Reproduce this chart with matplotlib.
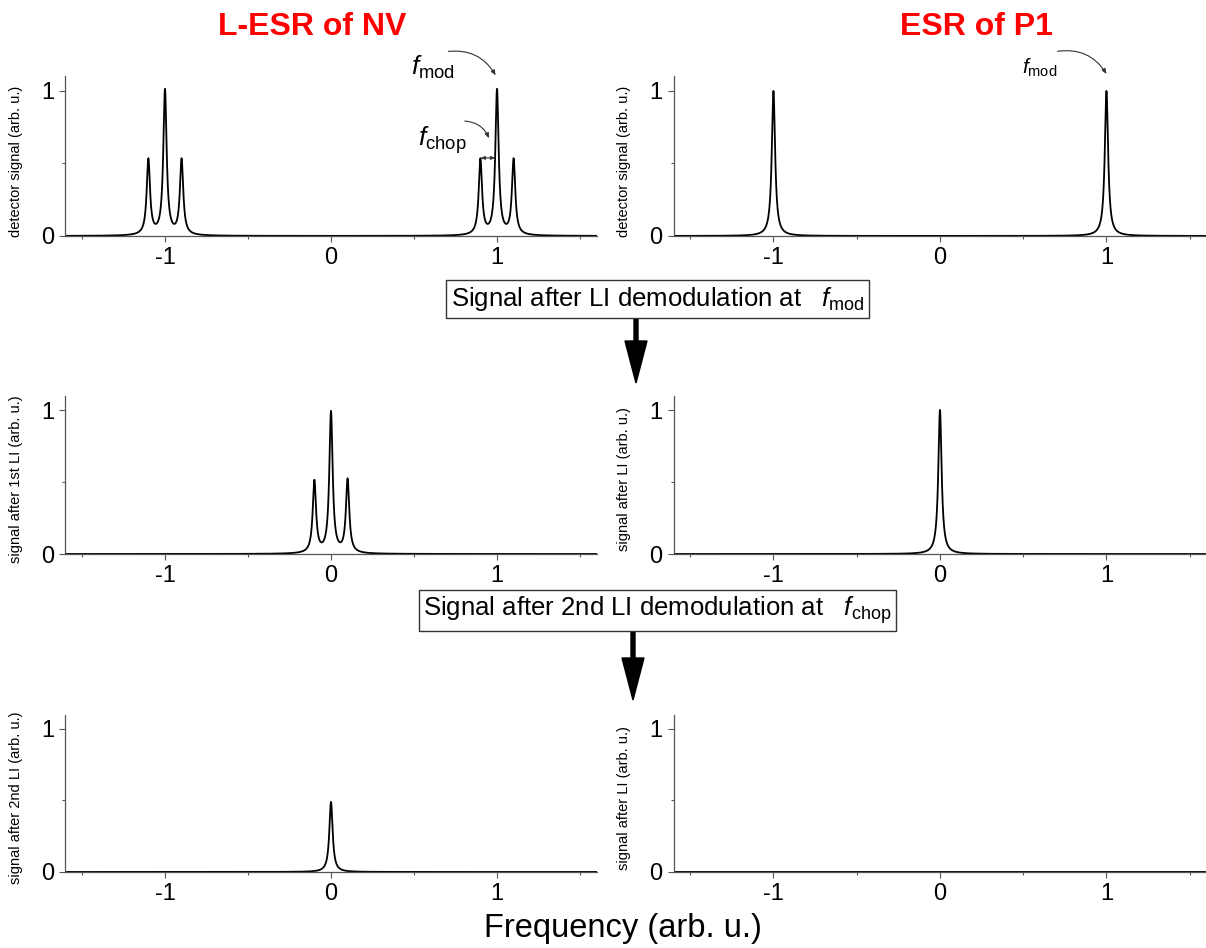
import numpy as np
import matplotlib
matplotlib.use("Agg")
import matplotlib.pyplot as plt
from matplotlib.patches import FancyArrow

plt.rcParams['font.family'] = ['Liberation Sans', 'DejaVu Sans']
plt.rcParams['mathtext.fontset'] = 'custom'
plt.rcParams['mathtext.rm'] = 'Liberation Sans'
plt.rcParams['mathtext.it'] = 'Liberation Sans:italic'

# peak parameters (centre, height) per panel
nv_det_pos = [-1.1, -1.0, -0.9, 0.9, 1.0, 1.1]
nv_det_amp = [0.52, 1.0, 0.52, 0.52, 1.0, 0.52]
p1_det_pos = [-1.0, 1.0]
p1_det_amp = [1.0, 1.0]
nv_li1_pos = [-0.1, 0.0, 0.1]
nv_li1_amp = [0.5, 0.98, 0.51]
p1_li1_pos = [0.0]
p1_li1_amp = [1.0]
nv_li2_pos = [0.0]
nv_li2_amp = [0.49]
p1_li2_pos = []
p1_li2_amp = []
line_hwhm = 0.012

xticks = [-1, 0, 1]
yticks = [0, 1]

ylabels = [["detector signal (arb. u.)", "detector signal (arb. u.)"],
           ["signal after 1st LI (arb. u.)", "signal after LI (arb. u.)"],
           ["signal after 2nd LI (arb. u.)", "signal after LI (arb. u.)"]]

panels = [[(nv_det_pos, nv_det_amp), (p1_det_pos, p1_det_amp)],
          [(nv_li1_pos, nv_li1_amp), (p1_li1_pos, p1_li1_amp)],
          [(nv_li2_pos, nv_li2_amp), (p1_li2_pos, p1_li2_amp)]]


def spectrum(f, pos, amp):
    s = np.zeros_like(f)
    for c, a in zip(pos, amp):
        s += a / (1 + ((f - c) / line_hwhm) ** 2)
    return s


fig = plt.figure(figsize=(12.06, 9.48), dpi=100)

col_x = [0.0542, 0.5585]
col_w = [0.4405, 0.4418]
row_y = [0.7511, 0.4156, 0.0802]
row_h = [0.1683, 0.1671, 0.166]

f = np.linspace(-1.6, 1.6, 6401)
axes = [[None, None], [None, None], [None, None]]
for r in range(3):
    for c in range(2):
        ax = fig.add_axes([col_x[c], row_y[r], col_w[c], row_h[r]])
        axes[r][c] = ax
        pos, amp = panels[r][c]
        ax.plot(f, spectrum(f, pos, amp), color='black', lw=1.3)
        ax.set_xlim(-1.6, 1.6)
        ax.set_ylim(0, 1.1)
        ax.spines['top'].set_visible(False)
        ax.spines['right'].set_visible(False)
        for sp in ['left', 'bottom']:
            ax.spines[sp].set_color('#555555')
            ax.spines[sp].set_linewidth(0.9)
        ax.set_xticks(xticks)
        ax.set_xticklabels(['-1', '0', '1'])
        ax.set_xticks([-1.5, -0.5, 0.5, 1.5], minor=True)
        ax.set_yticks(yticks)
        ax.set_yticks([0.5], minor=True)
        ax.tick_params(which='major', length=4, width=0.8, color='#555555', labelsize=17, pad=4)
        ax.tick_params(which='minor', length=2, width=0.8, color='#555555')
        ax.set_ylabel(ylabels[r][c], fontsize=10.5)
        ax.yaxis.set_label_coords(-0.08, 0.47)

# titles
fig.text(0.2587, 0.9715, "L-ESR of NV", color='red', fontsize=23, fontweight='bold',
         ha='center', va='center')
fig.text(0.81, 0.9715, "ESR of P1", color='red', fontsize=23, fontweight='bold',
         ha='center', va='center')

# annotations
ax = axes[0][0]
ax.text(0.614, 1.16, r"$f_{\rm mod}$", fontsize=19, ha='center', va='center')
ax.annotate("", xy=(1.0, 1.09), xytext=(0.69, 1.27), annotation_clip=False,
            arrowprops=dict(arrowstyle='-|>,head_length=0.3,head_width=0.12', lw=0.8,
                            color='#333333', connectionstyle='arc3,rad=-0.35'))
ax.text(0.669, 0.66, r"$f_{\rm chop}$", fontsize=19, ha='center', va='center')
ax.annotate("", xy=(0.958, 0.655), xytext=(0.789, 0.793), annotation_clip=False,
            arrowprops=dict(arrowstyle='-|>,head_length=0.3,head_width=0.12', lw=0.8,
                            color='#333333', connectionstyle='arc3,rad=-0.35'))
ax.annotate("", xy=(0.99, 0.538), xytext=(0.9, 0.538),
            arrowprops=dict(arrowstyle='<|-|>,head_length=0.25,head_width=0.1', lw=0.8,
                            color='#333333', shrinkA=0, shrinkB=0))

ax = axes[0][1]
ax.text(0.60, 1.16, r"$f_{\rm mod}$", fontsize=15, ha='center', va='center')
ax.annotate("", xy=(1.009, 1.10), xytext=(0.69, 1.27), annotation_clip=False,
            arrowprops=dict(arrowstyle='-|>,head_length=0.3,head_width=0.12', lw=0.8,
                            color='#333333', connectionstyle='arc3,rad=-0.35'))

# boxes between rows
box = dict(boxstyle='square,pad=0.18', facecolor='white', edgecolor='#333333', lw=1)
fig.text(0.5452, 0.6846, r"Signal after LI demodulation at   $f_{\rm mod}$", fontsize=18.5,
         ha='center', va='center', bbox=box)
fig.text(0.5452, 0.3565, r"Signal after 2nd LI demodulation at   $f_{\rm chop}$", fontsize=18.5,
         ha='center', va='center', bbox=box)

# big arrows (inches from bottom-left)
fig.add_artist(FancyArrow(6.36, 6.30, 0, -0.65, width=0.04, head_width=0.22, head_length=0.42,
                          length_includes_head=True, color='black', transform=fig.dpi_scale_trans))
fig.add_artist(FancyArrow(6.33, 3.16, 0, -0.68, width=0.04, head_width=0.22, head_length=0.42,
                          length_includes_head=True, color='black', transform=fig.dpi_scale_trans))

fig.text(0.5166, 0.021, "Frequency (arb. u.)", fontsize=23.5, ha='center', va='center')

fig.savefig("out.png", dpi=100)
